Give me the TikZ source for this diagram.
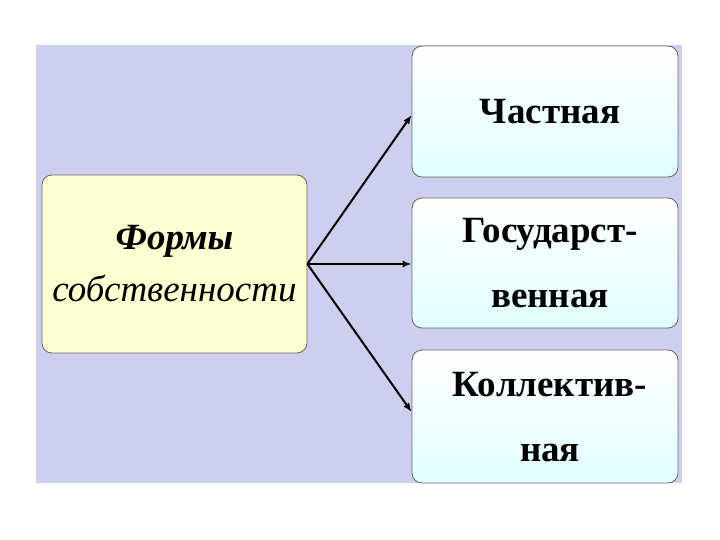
\documentclass[tikz,border=0pt]{standalone}
\usepackage{fontspec}
\setmainfont{Liberation Serif}
\begin{document}
\begin{tikzpicture}[x=1pt,y=-1pt,
  rbox/.style={draw=gray!80!black,rounded corners=10pt,line width=0.8pt,top color=white,bottom color=cyan!12,shading angle=0,text depth=0pt,xshift=0pt},
  arr/.style={line width=2pt,-{Latex[length=9pt,width=7pt]}}]
\usetikzlibrary{arrows.meta}
\useasboundingbox (0,0) rectangle (720,540);
\fill[white] (0,0) rectangle (720,540);
\fill[fill={rgb,255:red,206;green,206;blue,238}] (36,45) rectangle (682,483);
\node[draw=gray!80!black,line width=0.8pt,rounded corners=10pt,fill={rgb,255:red,255;green,255;blue,210},minimum width=265pt,minimum height=178pt,align=center,font=\fontsize{37}{52}\selectfont\itshape] (f) at (174.5,264) {\textbf{Формы}\\собственности};
\node[rbox,minimum width=266pt,minimum height=131pt,font=\fontsize{37}{65}\selectfont\bfseries] (a) at (545,111.5) {\hspace{10pt}Частная};
\node[rbox,minimum width=266pt,minimum height=130pt,align=center,font=\fontsize{37}{65}\selectfont\bfseries] (b) at (545,263) {\hspace{10pt}Государст-\\\hspace{10pt}венная};
\node[rbox,minimum width=266pt,minimum height=133pt,align=center,font=\fontsize{37}{65}\selectfont\bfseries] (c) at (545,416.5) {\hspace{10pt}Коллектив-\\\hspace{10pt}ная};
\coordinate (o) at (f.east);
\draw[arr] (o) -- (a.west |- 0,115);
\draw[arr] (o) -- (b.west |- o);
\draw[arr] (o) -- (c.west |- 0,412);
\end{tikzpicture}
\end{document}
